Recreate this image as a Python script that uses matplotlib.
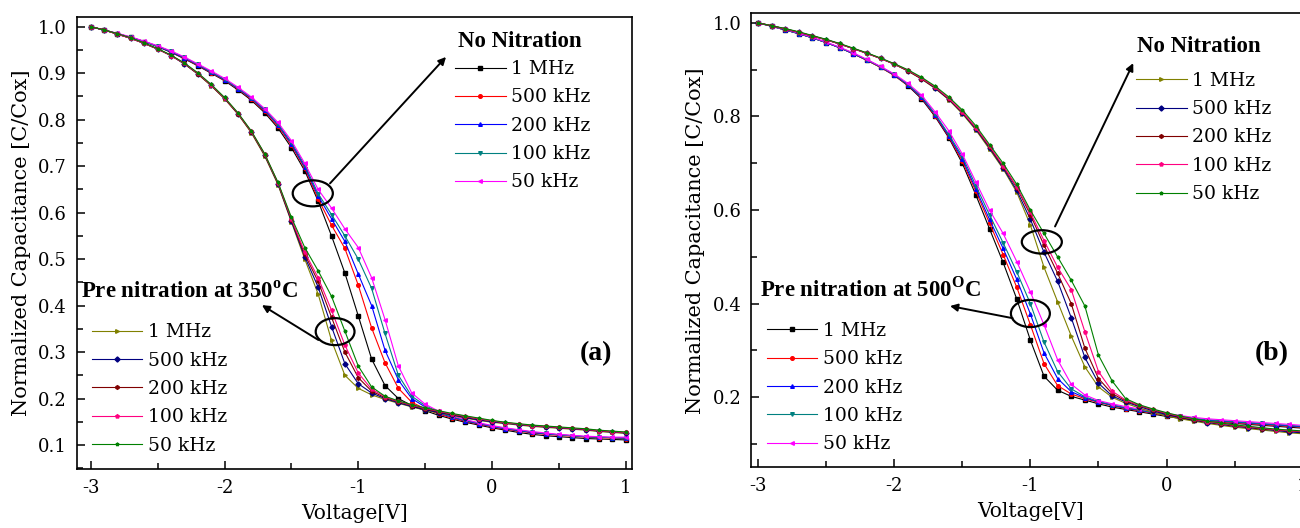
import matplotlib.pyplot as plt
from matplotlib.patches import Ellipse
from matplotlib.ticker import MultipleLocator

# Barrido de voltaje (V)
voltage = [-3.0, -2.9, -2.8, -2.7, -2.6, -2.5, -2.4, -2.3, -2.2, -2.1, -2.0,
           -1.9, -1.8, -1.7, -1.6, -1.5, -1.4, -1.3, -1.2, -1.1, -1.0,
           -0.9, -0.8, -0.7, -0.6, -0.5, -0.4, -0.3, -0.2, -0.1, 0.0,
           0.1, 0.2, 0.3, 0.4, 0.5, 0.6, 0.7, 0.8, 0.9, 1.0]

freq_labels = ['1 MHz', '500 kHz', '200 kHz', '100 kHz', '50 kHz']

# (a) No nitration
a_nn_1mhz = [1.000, 0.993, 0.985, 0.977, 0.968, 0.957, 0.945, 0.931, 0.916, 0.900, 0.884,
             0.864, 0.842, 0.815, 0.782, 0.740, 0.690, 0.625, 0.550, 0.470, 0.378,
             0.285, 0.228, 0.200, 0.185, 0.174, 0.164, 0.156, 0.149, 0.143, 0.137,
             0.132, 0.127, 0.123, 0.120, 0.118, 0.116, 0.114, 0.113, 0.112, 0.111]
a_nn_500k = [1.000, 0.993, 0.985, 0.977, 0.968, 0.958, 0.946, 0.932, 0.917, 0.901, 0.885,
             0.866, 0.844, 0.818, 0.786, 0.745, 0.695, 0.630, 0.573, 0.523, 0.444,
             0.352, 0.277, 0.222, 0.192, 0.178, 0.167, 0.158, 0.151, 0.145, 0.139,
             0.134, 0.130, 0.126, 0.123, 0.121, 0.119, 0.117, 0.116, 0.115, 0.114]
a_nn_200k = [1.000, 0.993, 0.985, 0.977, 0.968, 0.958, 0.946, 0.933, 0.918, 0.902, 0.886,
             0.867, 0.846, 0.820, 0.789, 0.748, 0.698, 0.636, 0.587, 0.538, 0.468,
             0.400, 0.304, 0.240, 0.200, 0.182, 0.169, 0.160, 0.152, 0.146, 0.140,
             0.135, 0.131, 0.127, 0.124, 0.122, 0.120, 0.118, 0.117, 0.116, 0.115]
a_nn_100k = [1.000, 0.993, 0.985, 0.977, 0.968, 0.958, 0.947, 0.934, 0.919, 0.903, 0.887,
             0.868, 0.847, 0.822, 0.791, 0.751, 0.702, 0.641, 0.596, 0.550, 0.500,
             0.437, 0.340, 0.250, 0.205, 0.185, 0.171, 0.161, 0.153, 0.147, 0.141,
             0.136, 0.132, 0.128, 0.125, 0.122, 0.120, 0.118, 0.117, 0.116, 0.115]
a_nn_50k = [1.000, 0.993, 0.986, 0.978, 0.969, 0.959, 0.948, 0.935, 0.920, 0.905, 0.889,
            0.870, 0.849, 0.824, 0.794, 0.755, 0.706, 0.650, 0.610, 0.565, 0.525,
            0.460, 0.370, 0.270, 0.212, 0.188, 0.173, 0.163, 0.155, 0.148, 0.142,
            0.137, 0.133, 0.129, 0.126, 0.123, 0.121, 0.119, 0.118, 0.117, 0.117]

# (a) Pre nitration at 350 C
a_pn_1mhz = [1.000, 0.993, 0.984, 0.975, 0.964, 0.952, 0.938, 0.920, 0.898, 0.873, 0.845,
             0.812, 0.772, 0.722, 0.660, 0.580, 0.500, 0.425, 0.325, 0.250, 0.222,
             0.208, 0.198, 0.190, 0.182, 0.175, 0.169, 0.164, 0.158, 0.153, 0.149,
             0.146, 0.143, 0.140, 0.138, 0.136, 0.134, 0.132, 0.129, 0.127, 0.125]
a_pn_500k = [1.000, 0.993, 0.984, 0.975, 0.964, 0.952, 0.938, 0.920, 0.899, 0.874, 0.846,
             0.813, 0.774, 0.724, 0.662, 0.582, 0.505, 0.440, 0.355, 0.275, 0.232,
             0.212, 0.200, 0.191, 0.183, 0.176, 0.170, 0.165, 0.159, 0.154, 0.150,
             0.147, 0.144, 0.141, 0.139, 0.137, 0.135, 0.133, 0.130, 0.128, 0.126]
a_pn_200k = [1.000, 0.993, 0.984, 0.975, 0.964, 0.952, 0.938, 0.921, 0.899, 0.874, 0.846,
             0.813, 0.774, 0.725, 0.663, 0.585, 0.510, 0.452, 0.375, 0.300, 0.245,
             0.216, 0.202, 0.193, 0.185, 0.178, 0.172, 0.166, 0.161, 0.156, 0.152,
             0.148, 0.145, 0.142, 0.140, 0.138, 0.136, 0.134, 0.131, 0.129, 0.127]
a_pn_100k = [1.000, 0.993, 0.984, 0.975, 0.964, 0.952, 0.938, 0.921, 0.900, 0.875, 0.847,
             0.814, 0.775, 0.726, 0.664, 0.587, 0.515, 0.460, 0.390, 0.315, 0.255,
             0.220, 0.204, 0.194, 0.186, 0.179, 0.173, 0.167, 0.162, 0.157, 0.152,
             0.148, 0.145, 0.142, 0.140, 0.138, 0.136, 0.134, 0.131, 0.129, 0.127]
a_pn_50k = [1.000, 0.993, 0.985, 0.976, 0.965, 0.953, 0.939, 0.922, 0.901, 0.876, 0.848,
            0.815, 0.776, 0.727, 0.665, 0.590, 0.525, 0.475, 0.420, 0.345, 0.270,
            0.225, 0.205, 0.195, 0.187, 0.180, 0.174, 0.168, 0.163, 0.158, 0.153,
            0.149, 0.146, 0.143, 0.141, 0.139, 0.137, 0.135, 0.132, 0.130, 0.128]

# (b) No nitration
b_nn_1mhz = [1.000, 0.994, 0.987, 0.980, 0.972, 0.964, 0.955, 0.945, 0.935, 0.924, 0.912,
             0.897, 0.880, 0.860, 0.836, 0.806, 0.771, 0.730, 0.688, 0.638, 0.568,
             0.478, 0.404, 0.331, 0.265, 0.222, 0.200, 0.187, 0.177, 0.168, 0.160,
             0.154, 0.149, 0.144, 0.140, 0.136, 0.133, 0.130, 0.127, 0.124, 0.122]
b_nn_500k = [1.000, 0.994, 0.987, 0.980, 0.972, 0.964, 0.955, 0.945, 0.935, 0.924, 0.912,
             0.898, 0.881, 0.861, 0.837, 0.808, 0.773, 0.733, 0.690, 0.642, 0.580,
             0.510, 0.448, 0.370, 0.285, 0.230, 0.203, 0.190, 0.180, 0.171, 0.163,
             0.157, 0.151, 0.146, 0.142, 0.138, 0.135, 0.132, 0.129, 0.126, 0.124]
b_nn_200k = [1.000, 0.994, 0.987, 0.980, 0.972, 0.964, 0.955, 0.945, 0.935, 0.924, 0.912,
             0.898, 0.881, 0.862, 0.838, 0.809, 0.775, 0.735, 0.693, 0.648, 0.590,
             0.525, 0.465, 0.400, 0.305, 0.240, 0.208, 0.192, 0.182, 0.173, 0.165,
             0.158, 0.152, 0.147, 0.143, 0.139, 0.136, 0.133, 0.130, 0.128, 0.126]
b_nn_100k = [1.000, 0.994, 0.987, 0.980, 0.972, 0.964, 0.955, 0.945, 0.935, 0.924, 0.912,
             0.899, 0.882, 0.863, 0.839, 0.810, 0.776, 0.737, 0.695, 0.650, 0.595,
             0.535, 0.478, 0.430, 0.340, 0.255, 0.213, 0.194, 0.183, 0.174, 0.166,
             0.159, 0.153, 0.148, 0.144, 0.140, 0.137, 0.134, 0.131, 0.129, 0.127]
b_nn_50k = [1.000, 0.994, 0.988, 0.981, 0.973, 0.965, 0.956, 0.946, 0.936, 0.925, 0.913,
            0.900, 0.884, 0.865, 0.842, 0.814, 0.780, 0.740, 0.700, 0.655, 0.600,
            0.550, 0.500, 0.450, 0.395, 0.290, 0.235, 0.197, 0.184, 0.175, 0.167,
            0.160, 0.154, 0.149, 0.145, 0.141, 0.138, 0.135, 0.132, 0.130, 0.128]

# (b) Pre nitration at 500 C
b_pn_1mhz = [1.000, 0.993, 0.985, 0.977, 0.968, 0.958, 0.947, 0.934, 0.920, 0.905, 0.888,
             0.866, 0.838, 0.800, 0.755, 0.700, 0.632, 0.560, 0.488, 0.410, 0.322,
             0.245, 0.215, 0.202, 0.194, 0.186, 0.179, 0.174, 0.169, 0.164, 0.159,
             0.155, 0.151, 0.148, 0.146, 0.144, 0.142, 0.140, 0.138, 0.136, 0.134]
b_pn_500k = [1.000, 0.993, 0.985, 0.977, 0.968, 0.958, 0.947, 0.934, 0.920, 0.905, 0.888,
             0.867, 0.840, 0.802, 0.757, 0.705, 0.640, 0.572, 0.505, 0.435, 0.355,
             0.272, 0.225, 0.207, 0.197, 0.189, 0.182, 0.176, 0.171, 0.166, 0.161,
             0.157, 0.153, 0.150, 0.148, 0.146, 0.144, 0.142, 0.140, 0.138, 0.136]
b_pn_200k = [1.000, 0.993, 0.985, 0.977, 0.968, 0.958, 0.947, 0.934, 0.921, 0.906, 0.889,
             0.868, 0.841, 0.804, 0.759, 0.710, 0.645, 0.580, 0.518, 0.452, 0.378,
             0.295, 0.240, 0.212, 0.199, 0.190, 0.183, 0.177, 0.172, 0.167, 0.162,
             0.158, 0.154, 0.151, 0.149, 0.147, 0.145, 0.143, 0.141, 0.139, 0.137]
b_pn_100k = [1.000, 0.993, 0.985, 0.977, 0.968, 0.958, 0.947, 0.935, 0.921, 0.906, 0.890,
             0.869, 0.843, 0.806, 0.762, 0.715, 0.652, 0.590, 0.530, 0.468, 0.400,
             0.318, 0.255, 0.218, 0.201, 0.191, 0.184, 0.178, 0.173, 0.168, 0.163,
             0.159, 0.155, 0.152, 0.150, 0.148, 0.146, 0.144, 0.142, 0.140, 0.138]
b_pn_50k = [1.000, 0.993, 0.986, 0.978, 0.969, 0.959, 0.948, 0.936, 0.922, 0.907, 0.891,
            0.871, 0.846, 0.810, 0.770, 0.720, 0.660, 0.600, 0.550, 0.490, 0.425,
            0.355, 0.280, 0.228, 0.205, 0.193, 0.186, 0.180, 0.175, 0.170, 0.165,
            0.161, 0.157, 0.154, 0.152, 0.150, 0.148, 0.146, 0.144, 0.142, 0.140]

# Colores y marcadores (estilo Origin)
colors_1 = ['#000000', '#ff0000', '#0000ff', '#008080', '#ff00ff']
markers_1 = ['s', 'o', '^', 'v', '<']
colors_2 = ['#808000', '#000080', '#800000', '#ff0080', '#008000']
markers_2 = ['>', 'D', 'h', 'p', '*']

plt.rcParams['font.family'] = 'DejaVu Serif'
plt.rcParams['axes.unicode_minus'] = False
plt.rcParams['mathtext.fontset'] = 'custom'
plt.rcParams['mathtext.rm'] = 'Liberation Serif'
plt.rcParams['mathtext.bf'] = 'Liberation Serif:bold'

bold_font = dict(family='Liberation Serif', weight='bold')


def draw_group(ax, series, colors, markers):
    lines = []
    for y, c, m, lab in zip(series, colors, markers, freq_labels):
        ln, = ax.plot(voltage, y, color=c, marker=m, ms=2.6, lw=0.8, label=lab)
        lines.append(ln)
    return lines


def add_legend(ax, handles, x, y):
    return ax.legend(handles=handles, loc='upper left', bbox_to_anchor=(x, y),
                     frameon=False, fontsize=13.5, handlelength=2.7,
                     handletextpad=0.3, labelspacing=0.55, borderpad=0,
                     borderaxespad=0, numpoints=1)


def style_axes(ax, xlim, ylim, yticks, yminor):
    ax.set_xlim(*xlim)
    ax.set_ylim(*ylim)
    ax.set_xticks([-3, -2, -1, 0, 1])
    ax.xaxis.set_minor_locator(MultipleLocator(0.5))
    ax.set_yticks(yticks)
    ax.set_yticklabels(['%.1f' % t for t in yticks])
    ax.yaxis.set_minor_locator(MultipleLocator(yminor))
    ax.tick_params(which='both', direction='in', top=False, right=False,
                   labelsize=13, width=1.1)
    ax.tick_params(which='major', length=6, pad=7)
    ax.tick_params(which='minor', length=4)
    for s in ax.spines.values():
        s.set_linewidth(1.2)
    ax.set_xlabel('Voltage[V]', fontsize=14.5, labelpad=5)
    ax.set_ylabel('Normalized Capacitance [C/Cox]', fontsize=15, labelpad=5)


def circle_and_arrow(ax, center, w, h, start, head):
    ax.add_patch(Ellipse(center, w, h, fill=False, ec='black', lw=1.6, zorder=6))
    ax.annotate('', xy=head, xytext=start,
                arrowprops=dict(arrowstyle='-|>', color='black', lw=1.4,
                                shrinkA=0, shrinkB=0, mutation_scale=11))


fig = plt.figure(figsize=(13, 5.28), dpi=100)

# ---------- Panel (a) ----------
ax1 = fig.add_axes([0.0590, 0.1117, 0.4272, 0.8566])
nn_a = draw_group(ax1, [a_nn_1mhz, a_nn_500k, a_nn_200k, a_nn_100k, a_nn_50k],
                  colors_1, markers_1)
pn_a = draw_group(ax1, [a_pn_1mhz, a_pn_500k, a_pn_200k, a_pn_100k, a_pn_50k],
                  colors_2, markers_2)
style_axes(ax1, (-3.105, 1.047), (0.0484, 1.0215),
           [0.1, 0.2, 0.3, 0.4, 0.5, 0.6, 0.7, 0.8, 0.9, 1.0], 0.05)
leg = add_legend(ax1, nn_a, 0.681, 0.904)
ax1.add_artist(leg)
add_legend(ax1, pn_a, 0.027, 0.322)

ax1.text(-0.254, 0.957, 'No Nitration', fontsize=16.5, va='baseline', **bold_font)
ax1.text(-3.075, 0.418, r'Pre nitration at 350$^{\mathbf{o}}$C', fontsize=16.5,
         va='baseline', **bold_font)
ax1.text(0.658, 0.283, '(a)', fontsize=20, va='baseline', **bold_font)
circle_and_arrow(ax1, (-1.34, 0.6415), 0.30, 0.056, (-1.211, 0.663), (-0.344, 0.935))
circle_and_arrow(ax1, (-1.173, 0.344), 0.29, 0.058, (-1.298, 0.326), (-1.72, 0.401))

# ---------- Panel (b) ----------
ax2 = fig.add_axes([0.5777, 0.1150, 0.4297, 0.8598])
pn_b = draw_group(ax2, [b_pn_1mhz, b_pn_500k, b_pn_200k, b_pn_100k, b_pn_50k],
                  colors_1, markers_1)
nn_b = draw_group(ax2, [b_nn_1mhz, b_nn_500k, b_nn_200k, b_nn_100k, b_nn_50k],
                  colors_2, markers_2)
style_axes(ax2, (-3.051, 1.05), (0.0504, 1.0205),
           [0.2, 0.4, 0.6, 0.8, 1.0], 0.1)
leg = add_legend(ax2, nn_b, 0.689, 0.871)
ax2.add_artist(leg)
add_legend(ax2, pn_b, 0.028, 0.320)

ax2.text(-0.215, 0.9385, 'No Nitration', fontsize=16.5, va='baseline', **bold_font)
ax2.text(-2.985, 0.415, r'Pre nitration at 500$^{\mathbf{O}}$C', fontsize=16.5,
         va='baseline', **bold_font)
ax2.text(0.649, 0.2797, '(b)', fontsize=20, va='baseline', **bold_font)
circle_and_arrow(ax2, (-0.916, 0.532), 0.294, 0.05, (-0.819, 0.565), (-0.245, 0.914))
circle_and_arrow(ax2, (-1.0, 0.379), 0.286, 0.058, (-1.13, 0.369), (-1.59, 0.395))

fig.savefig('out.png', dpi=100)
